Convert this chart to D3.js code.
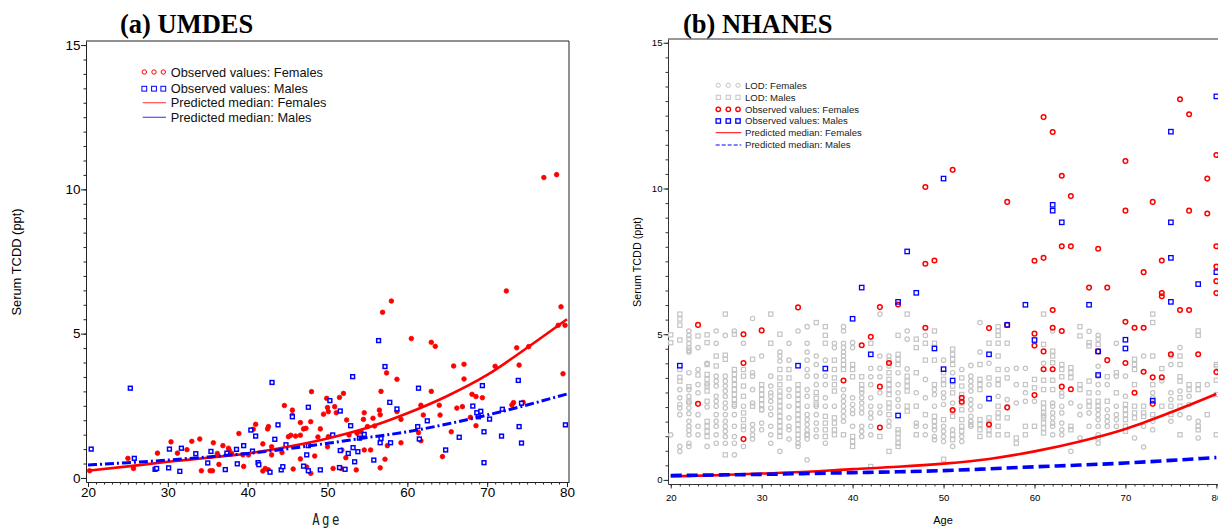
<!DOCTYPE html>
<html><head><meta charset="utf-8">
<script src="https://cdn.jsdelivr.net/npm/d3@7"></script>
<style>body{margin:0;background:#fff}svg{display:block}</style>
</head><body>
<svg id="c" width="1218" height="529"></svg>
<script>
// ---------- DATA ----------
const ageTicks = [20, 30, 40, 50, 60, 70, 80];
const valueTicks = [0, 5, 10, 15];
const titles = ["(a) UMDES", "(b) NHANES"];
const yLabel = "Serum TCDD (ppt)";
const xLabel = "Age";
const legendA = ["Observed values: Females", "Observed values: Males", "Predicted median: Females", "Predicted median: Males"];
const legendB = ["LOD: Females", "LOD: Males", "Observed values: Females", "Observed values: Males", "Predicted median: Females", "Predicted median: Males"];

// (a) UMDES observed values [age, ppt]
const umdesFemales = [[20.2,0.25],[25.0,0.68],[25.7,0.33],[28.7,0.86],[30.4,1.25],[31.2,0.86],[32.4,0.98],[33.0,1.27],[34.0,1.35],[34.2,0.25],[35.3,0.25],[35.6,0.25],[35.7,1.22],[36.2,0.85],[36.4,0.47],[36.9,1.12],[37.4,0.83],[37.6,1.03],[37.7,0.95],[38.0,0.85],[38.9,1.54],[39.4,0.80],[39.5,0.40],[40.1,0.80],[40.7,1.69],[41.0,1.86],[41.9,1.18],[41.9,0.24],[42.2,0.33],[42.5,1.70],[42.6,1.78],[42.6,0.28],[43.0,0.80],[43.0,1.08],[44.3,0.88],[44.6,2.51],[45.1,1.43],[45.4,1.48],[45.6,2.35],[45.6,2.18],[45.7,0.31],[46.0,1.45],[46.6,1.48],[46.6,1.92],[46.6,0.66],[47.0,1.70],[47.3,1.72],[47.4,0.38],[47.9,1.95],[47.9,0.16],[48.0,2.99],[48.4,0.76],[48.8,1.42],[49.1,1.70],[49.5,2.21],[49.9,2.76],[50.0,2.44],[50.0,1.08],[50.1,2.30],[50.1,1.43],[50.7,0.33],[50.9,2.47],[51.1,2.26],[51.5,2.79],[51.7,0.33],[51.8,0.97],[52.0,2.93],[52.3,0.70],[52.4,2.01],[52.7,1.49],[53.6,0.28],[53.7,1.55],[54.2,1.60],[54.5,2.03],[54.6,2.26],[54.6,0.97],[55.0,1.78],[55.4,0.97],[55.7,2.07],[55.9,1.80],[56.5,2.35],[56.6,2.19],[56.6,0.35],[56.7,3.00],[56.9,5.74],[57.2,0.65],[57.4,3.64],[57.5,1.12],[58.0,6.13],[58.7,3.42],[58.7,2.30],[59.2,2.03],[59.2,1.22],[60.5,4.83],[61.4,1.57],[61.7,2.52],[61.7,1.29],[62.0,2.18],[63.0,4.70],[63.0,3.00],[63.5,4.56],[64.0,2.52],[64.1,2.18],[64.4,0.74],[65.5,1.60],[65.8,3.88],[66.2,2.42],[66.9,2.47],[67.1,3.94],[67.1,3.43],[67.9,2.10],[68.1,2.90],[68.6,2.82],[68.6,1.81],[69.4,2.78],[71.0,3.87],[72.4,6.48],[73.1,2.53],[73.3,2.61],[73.7,4.51],[74.0,3.91],[74.5,2.62],[75.2,4.55],[77.1,10.41],[78.7,10.51],[78.9,5.29],[79.25,5.93],[79.5,3.61],[79.75,5.29]];
const umdesMales = [[20.4,1.00],[25.3,3.11],[25.8,0.68],[28.4,0.30],[28.6,0.33],[30.1,0.35],[30.2,1.00],[31.5,0.23],[31.7,1.03],[33.5,0.84],[35.0,0.52],[35.4,0.92],[37.2,0.29],[37.4,0.86],[38.6,0.99],[38.7,0.49],[39.5,1.12],[40.4,1.66],[40.6,0.93],[41.0,1.45],[41.3,0.53],[41.4,0.46],[42.8,0.20],[43.05,3.31],[43.4,1.34],[43.8,1.84],[44.2,0.28],[44.4,0.39],[44.8,1.15],[45.6,2.12],[47.0,0.41],[47.4,0.80],[47.6,2.45],[47.6,1.12],[47.6,0.25],[49.1,0.28],[50.3,2.68],[50.65,1.49],[51.5,0.36],[51.6,2.32],[51.6,0.95],[52.2,0.30],[52.6,0.85],[52.9,1.81],[53.15,3.51],[53.2,1.05],[53.4,0.56],[53.8,0.91],[54.0,1.38],[54.6,1.51],[55.8,0.62],[56.4,4.76],[56.6,1.22],[56.7,1.37],[57.2,3.86],[57.8,2.62],[57.9,1.22],[58.7,2.39],[61.3,1.78],[61.4,3.11],[61.5,1.35],[62.5,1.98],[64.8,0.97],[66.5,1.41],[68.2,2.49],[68.7,2.26],[68.9,2.12],[69.2,2.31],[69.4,3.20],[69.6,1.60],[69.6,0.53],[70.3,2.04],[71.8,1.45],[71.9,2.38],[73.9,3.38],[74.0,1.78],[74.3,2.59],[74.3,1.21],[79.8,1.84]];
const umdesPredFemales = [[20,0.25],[25,0.40],[30,0.56],[35,0.70],[40,0.85],[45,1.08],[50,1.37],[55,1.74],[60,2.24],[65,2.84],[70,3.57],[75,4.51],[80,5.50]];
const umdesPredMales = [[20,0.45],[25,0.53],[30,0.62],[35,0.73],[40,0.85],[45,1.01],[50,1.20],[55,1.40],[60,1.60],[65,1.87],[70,2.18],[75,2.53],[80,2.91]];

// (b) NHANES observed values [age, ppt]
const nhanesFemales = [[23,5.32],[23,2.61],[28,5.0],[28,4.01],[28,1.40],[30,5.13],[34,5.92],[39,3.41],[41,4.62],[42,4.91],[43,5.93],[43,3.20],[43,1.80],[44,4.01],[45,6.02],[48,5.22],[48,10.05],[48,7.42],[49,7.53],[51,10.64],[51,2.40],[52,2.82],[52,2.68],[55,5.21],[55,1.90],[57,5.32],[57,2.49],[57,9.54],[60,5.02],[60,4.61],[60,2.91],[60,7.52],[61,7.62],[61,12.45],[61,4.41],[61,3.80],[62,11.94],[62,5.83],[62,5.22],[62,3.80],[63,10.44],[63,8.02],[63,5.11],[63,3.20],[64,9.74],[64,8.02],[64,3.11],[66,6.60],[68,6.60],[67,7.93],[67,4.41],[68,4.11],[70,10.94],[70,9.24],[70,5.43],[70,4.01],[71,5.22],[71,2.99],[72,5.22],[72,3.71],[72,7.13],[73,9.54],[73,3.52],[73,2.61],[74,3.52],[74,7.53],[74,6.41],[74,6.30],[75,4.31],[76,13.06],[76,5.83],[77,12.55],[77,9.24],[77,5.83],[78,4.31],[79,10.34],[79,9.14],[80,11.15],[80,8.02],[80,7.32],[80,6.82],[80,6.41],[80,3.70]];
const nhanesMales = [[21,3.92],[34,3.92],[37,3.82],[40,5.53],[41,6.60],[42,4.31],[45,6.11],[45,2.21],[46,7.84],[47,6.42],[49,4.51],[50,3.80],[50,10.34],[51,3.41],[55,4.31],[55,2.79],[57,5.32],[59,6.01],[60,4.80],[62,9.44],[62,9.24],[63,8.84],[66,6.01],[67,4.41],[67,3.60],[70,4.81],[70,4.51],[73,2.72],[75,6.11],[75,11.95],[75,8.84],[75,7.62],[78,6.72],[80,13.16],[80,7.13]];
// below limit of detection (imputed), per age: [age, values...]
const nhanesLodFemales = [[20,1.55],[21,3.10,2.82,2.59,2.47,2.24,1.15,0.98],[22,5.11,4.96,4.83,4.68,4.54,4.39,3.68,3.10,2.87,2.64,2.47,2.28,2.01,1.84,1.70,1.55,1.26,1.15],[23,4.54,3.79,3.27,2.99,2.24,1.84,1.55],[24,4.0,3.3,2.5,1.15],[25,5.11,4.69,3.56,3.39,3.22,2.87,2.70,2.53,2.24,2.01,1.84,1.55,1.26],[26,4.96,3.56,3.39,3.22,3.05,2.87,2.64,2.47,2.24,2.01,1.84,1.67,1.49,1.26],[27,5.11,2.53,2.24,1.84,1.49,1.26,0.86],[28,4.69,2.53,1.72,1.15],[29,5.54,3.68,3.56,3.10,2.64,1.90,1.72,1.55,1.40],[30,4.25,2.41,1.95,1.72],[31,3.56,3.22,2.99,2.87,2.70,2.47,2.24,1.84,1.55,1.26],[32,4.39,4.25,4.08,0.98],[33,4.69,4.11,3.10,2.87,2.53,2.13,1.84,1.72,1.40],[34,5.11,1.40,1.26,1.15],[35,5.26,4.69,4.39,4.11,3.79,3.56,3.10,2.87,2.53,2.24,2.07,1.90,1.72,1.55,1.40,0.69],[36,4.25,3.96,3.56,3.27,2.53,2.24,1.95,1.72,1.49],[37,4.11,3.56,3.27,2.82,2.53,1.26],[38,4.69,4.54,2.53],[39,5.26,5.11,4.69,4.54,4.39,4.25,4.11,3.10,2.87,2.70,2.53,2.36,2.18,2.01],[40,4.71,4.54,2.82,2.59,2.41,2.28,1.84],[41,2.99,2.82,2.64,2.47,2.30,1.84,1.67,1.49],[42,3.83,3.54,3.27,2.82,2.53,2.30,2.13,1.84,1.55],[43,5.69,4.25,3.83,3.54,2.99,2.53,2.30],[44,4.25,4.11,3.91,2.01,1.84],[45,3.68,3.27,2.99,2.76,2.53],[46,5.11,4.83,3.81],[47,2.99,1.95,1.84],[48,4.96,3.45,2.82,1.84,1.55],[49,3.10,2.93,2.53,1.84,1.72,1.49,1.38],[50,4.11,2.99,2.82,2.59,1.84,1.67,1.49,1.32],[51,3.68,2.64,1.72,1.15],[52,3.79,1.49,1.32],[53,3.93,3.56,3.39,3.22,3.05,2.76,2.59,2.41,2.18,2.01,1.84],[54,5.40,4.39,2.53],[55,4.0,3.27],[56,2.87],[57,3.79,2.76,2.47],[58,3.83,3.27,2.64],[59,3.83,2.99,2.70],[60,2.70],[61,4.0,2.2],[62,5.11,2.64,2.53,2.30,2.13,1.95,1.84,1.55],[63,2.99,2.87,2.53,2.30,1.95,1.72,1.55],[64,2.64,0.98],[65,2.53,2.24,1.44],[66,5.10,2.30,1.84],[67,4.96,4.83,3.90,3.56,3.27,2.99,2.41,2.24,2.07,1.84,1.55,1.26],[68,3.27,2.41,2.18,2.01,1.84],[69,4.69,3.56,2.53,2.24,2.07,1.84],[70,3.56,2.87],[71,1.44],[72,4.25,1.84,1.13],[73,2.99,2.82,2.01,1.72],[74,3.4],[75,4.25,3.96,2.99,2.76,2.01],[76,4.54,3.05,2.24],[77,2.87,2.59,2.13],[78,2.01,1.44],[79,3.27],[80,3.9]];
const nhanesLodMales = [[20,4.98,4.71],[21,5.69,5.52,5.31,4.80,3.79,3.52,3.39],[22,4.45,3.20,2.70],[23,4.94,3.60],[24,4.98,4.71,3.96,3.62,3.45,3.22,3.05,2.70,2.01,1.84,1.67,1.49],[25,4.25,3.91],[26,5.69,4.28,4.14,0.86],[27,5.0,3.79,3.62,3.45,3.27,3.10,2.93,2.76,2.59],[28,3.79,3.56,3.22,2.87,2.30,2.07,1.84],[29,4.14,2.53],[30,3.27,3.10,2.93,2.76,2.59,2.41],[31,5.69,4.69],[32,5.0,3.79,3.50,3.27,3.05,2.87,2.70,2.53,2.36,2.18,2.01,1.84,1.67,1.49],[33,3.79,3.50],[34,3.27,3.10,2.93,2.76,2.59,2.41,2.24,2.07,1.90,1.72,1.55],[35,1.55],[36,5.40,3.0,2.8,2.6],[37,5.26,4.96,4.69,2.18,1.95,1.72,1.49],[38,4.11,3.79,3.50,3.27,3.05,2.13,1.95,1.72,1.55],[39,3.96,3.79,1.55],[40,3.96,3.79,3.54,1.49,1.32,1.15],[41,3.54,3.27,3.10],[42,4.69,0.46],[43,1.49],[44,3.68,3.45,3.27,3.10,2.93,2.64,2.47,2.24,0.98],[45,4.96,4.31,4.14,3.96,1.72,1.61,1.44,1.26,1.15],[46,5.69,3.56,3.39,3.22,3.05,2.53,2.36],[47,4.83,4.54,3.68,2.53,1.55],[48,4.69,4.11,2.24],[49,5.11,4.69,4.11,3.27,2.18,2.01],[50,3.68,3.45,3.27,2.07,0.71],[51,4.49,4.31,4.14,3.96,3.22,2.99,2.36,2.18,1.55,1.38],[52,3.50,3.22,2.93,2.64,2.41,2.07,1.84,1.67],[53,1.9],[54,3.96,3.45,3.27,3.10,2.07,1.90,1.72,1.49],[55,4.69,3.50,2.13,1.95,1.72,1.55],[56,5.26,5.11,4.96,4.69,4.25,3.79,3.45,3.27,2.53,2.30,2.13,1.84,1.55],[57,4.69,3.50,2.13,1.55],[58,1.44,1.26],[59,3.27,1.84,1.55],[60,3.45,3.16,1.84],[61,5.69,4.65,3.42,3.10,2.64,2.47,2.30,2.13,1.95,1.78,1.61],[62,4.42,4.25,4.02,3.42,3.10],[63,3.96,3.79,3.54],[64,3.85,3.68,3.51,1.84,1.72],[65,5.26,4.94,3.27,3.10],[66,4.71,4.60,3.39,2.99,2.70,2.53],[67,4.65,2.70,2.53,1.44],[68,3.54,2.70],[69,3.68,2.99],[70,2.59,2.41,2.24,2.07,1.84,1.67],[71,4.14,3.96,3.79,3.27,2.53,2.30,2.13],[72,2.53,2.30,2.18],[73,5.69,5.40,4.25,3.27,2.24],[74,3.82,2.53],[75,2.53,2.24],[76,4.25,3.96,3.54,3.39,2.82,2.53,1.55],[77,3.27,3.10],[78,5.11,4.96,3.27,3.10,1.84,1.72],[79,2.24],[80,3.96,3.42,2.93,1.55]];
const nhanesPredFemales = [[20,0.12],[25,0.16],[30,0.22],[35,0.28],[40,0.37],[45,0.45],[50,0.56],[55,0.72],[60,0.98],[65,1.32],[70,1.75],[75,2.32],[80,2.95]];
const nhanesPredMales = [[20,0.15],[25,0.17],[30,0.19],[35,0.22],[40,0.25],[45,0.28],[50,0.32],[55,0.38],[60,0.45],[65,0.51],[70,0.58],[75,0.67],[80,0.77]];

// ---------- DRAWING ----------
const svg = d3.select("#c");
const RED = "#ff0000", BLUE = "#0000ff", GRAY = "#c4c4c4";
const SANS = "'Liberation Sans', Arial, Helvetica, sans-serif";

function frame(x, y, o) {
  const [x0, x1] = x.range(), [y0, y1] = y.range();
  const g = svg.append("g");
  g.append("path").attr("d", `M${x0},${y1}H${x1}V${y0}`).attr("fill", "none").attr("stroke", o.axisColor).attr("stroke-width", 1);
  g.append("g").attr("transform", `translate(0,${y0})`)
    .call(d3.axisBottom(x).tickValues(d3.range(20, 81, 1)).tickSize(o.minor).tickFormat(""))
    .call(s => { s.select(".domain").remove(); s.selectAll("line").attr("stroke", o.axisColor); });
  g.append("g").attr("transform", `translate(${x0},0)`)
    .call(d3.axisLeft(y).tickValues(d3.range(0, 15.01, 0.5)).tickSize(o.minor).tickFormat(""))
    .call(s => { s.select(".domain").remove(); s.selectAll("line").attr("stroke", o.axisColor); });
  g.append("g").attr("transform", `translate(0,${y0})`)
    .call(d3.axisBottom(x).tickValues(ageTicks).tickSize(o.major).tickSizeOuter(0).tickPadding(o.xPad))
    .call(s => { s.select(".domain").attr("stroke", o.axisColor); s.selectAll("line").attr("stroke", o.axisColor);
      s.selectAll("text").attr("font-family", SANS).attr("font-size", o.tickFont).attr("fill", "#000"); });
  g.append("g").attr("transform", `translate(${x0},0)`)
    .call(d3.axisLeft(y).tickValues(valueTicks).tickSize(o.major).tickSizeOuter(0).tickPadding(o.yPad))
    .call(s => { s.select(".domain").attr("stroke", o.axisColor); s.selectAll("line").attr("stroke", o.axisColor);
      s.selectAll("text").attr("font-family", SANS).attr("font-size", o.tickFont).attr("fill", "#000"); });
}

function squares(g, data, x, y, size, color, sw, fill) {
  g.selectAll(null).data(data).join("rect")
    .attr("x", d => x(d[0]) - size / 2).attr("y", d => y(d[1]) - size / 2)
    .attr("width", size).attr("height", size)
    .attr("fill", fill).attr("stroke", color).attr("stroke-width", sw);
}
function circles(g, data, x, y, r, color, sw, fill) {
  g.selectAll(null).data(data).join("circle")
    .attr("cx", d => x(d[0])).attr("cy", d => y(d[1])).attr("r", r)
    .attr("fill", fill).attr("stroke", color).attr("stroke-width", sw);
}
function line(g, data, x, y, color, w, dash) {
  g.append("path").datum(data)
    .attr("d", d3.line().x(d => x(d[0])).y(d => y(d[1])).curve(d3.curveMonotoneX))
    .attr("fill", "none").attr("stroke", color).attr("stroke-width", w)
    .attr("stroke-dasharray", dash || null);
}
const flat = rows => rows.flatMap(r => r.slice(1).map(v => [r[0], v]));

// ===== Panel (a) =====
{
  const x = d3.scaleLinear([19.75, 80.25], [86, 569]);
  const y = d3.scaleLinear([-0.14, 15.14], [482, 41]);
  frame(x, y, { axisColor: "#222", minor: 2.5, major: 5, xPad: 0, yPad: 0.5, tickFont: "13.5px" });
  const g = svg.append("g");
  circles(g, umdesFemales, x, y, 2.3, RED, 0.8, RED);
  squares(g, umdesMales, x, y, 3.8, BLUE, 1.5, "#fff");
  line(g, umdesPredFemales, x, y, RED, 2.6);
  line(g, umdesPredMales, x, y, BLUE, 3, "9,3,2,3");

  svg.append("text").text(titles[0]).attr("x", 120).attr("y", 33)
    .attr("font-family", "'Liberation Serif', 'Times New Roman', serif").attr("font-weight", "bold").attr("font-size", "26.5px");
  svg.append("text").text(yLabel).attr("transform", "translate(21,262) rotate(-90)")
    .attr("text-anchor", "middle").attr("font-family", SANS).attr("font-size", "12.9px");
  svg.append("text").text(xLabel).attr("transform", "translate(327,525) scale(0.95,1.2)")
    .attr("text-anchor", "middle").attr("letter-spacing", "2.5px")
    .attr("font-family", "'DejaVu Sans Mono', monospace").attr("font-weight", 300).attr("font-size", "13px").attr("fill", "#222");

  const lg = svg.append("g").attr("font-family", SANS).attr("font-size", "12.8px");
  const rows = [72, 88.7, 102.7, 117.3];
  [144.3, 154, 163.3].forEach(mx => {
    lg.append("circle").attr("cx", mx).attr("cy", rows[0]).attr("r", 2.2).attr("fill", "none").attr("stroke", RED).attr("stroke-width", 1);
    lg.append("rect").attr("x", mx - 2.4).attr("y", rows[1] - 2.4).attr("width", 4.8).attr("height", 4.8).attr("fill", "none").attr("stroke", BLUE).attr("stroke-width", 1);
  });
  lg.append("line").attr("x1", 142.7).attr("x2", 166).attr("y1", rows[2]).attr("y2", rows[2]).attr("stroke", "#ff5050").attr("stroke-width", 1.2);
  lg.append("line").attr("x1", 142.7).attr("x2", 166).attr("y1", rows[3]).attr("y2", rows[3]).attr("stroke", "#5050ff").attr("stroke-width", 1.2);
  legendA.forEach((t, i) => lg.append("text").text(t).attr("x", 170.7).attr("y", rows[i]).attr("dy", "0.36em").attr("fill", "#111"));
}

// ===== Panel (b) =====
{
  const x = d3.scaleLinear([19.7, 80.3], [668, 1219.1]);
  const y = d3.scaleLinear([-0.14, 15.13], [484, 39]);
  frame(x, y, { axisColor: "#333", minor: 2.5, major: 4.5, xPad: 6, yPad: 1, tickFont: "9.6px" });
  const g = svg.append("g");
  circles(g, flat(nhanesLodFemales), x, y, 2.2, GRAY, 1.2, "none");
  squares(g, flat(nhanesLodMales), x, y, 4.2, GRAY, 1.2, "none");
  line(g, nhanesPredFemales, x, y, RED, 2.6);
  line(g, nhanesPredMales, x, y, BLUE, 3.6, "11,5");
  circles(g, nhanesFemales, x, y, 2.3, RED, 1.5, "none");
  squares(g, nhanesMales, x, y, 4.4, BLUE, 1.3, "none");

  svg.append("text").text(titles[1]).attr("x", 683).attr("y", 33)
    .attr("font-family", "'Liberation Serif', 'Times New Roman', serif").attr("font-weight", "bold").attr("font-size", "26.5px");
  svg.append("text").text(yLabel).attr("transform", "translate(641,262) rotate(-90)")
    .attr("text-anchor", "middle").attr("font-family", SANS).attr("font-size", "10.8px");
  svg.append("text").text(xLabel).attr("x", 943).attr("y", 524).attr("text-anchor", "middle")
    .attr("font-family", SANS).attr("font-size", "11px");

  const lg = svg.append("g").attr("font-family", SANS).attr("font-size", "9.6px");
  const rows = [85.3, 97.3, 109.3, 121, 132.7, 145];
  [718.3, 728.3, 738].forEach(mx => {
    lg.append("circle").attr("cx", mx).attr("cy", rows[0]).attr("r", 2.1).attr("fill", "none").attr("stroke", GRAY).attr("stroke-width", 1);
    lg.append("rect").attr("x", mx - 2.1).attr("y", rows[1] - 2.1).attr("width", 4.2).attr("height", 4.2).attr("fill", "none").attr("stroke", GRAY).attr("stroke-width", 1);
    lg.append("circle").attr("cx", mx).attr("cy", rows[2]).attr("r", 2.2).attr("fill", "none").attr("stroke", RED).attr("stroke-width", 1.4);
    lg.append("rect").attr("x", mx - 2.2).attr("y", rows[3] - 2.2).attr("width", 4.4).attr("height", 4.4).attr("fill", "none").attr("stroke", BLUE).attr("stroke-width", 1.3);
  });
  lg.append("line").attr("x1", 715.7).attr("x2", 741.3).attr("y1", rows[4]).attr("y2", rows[4]).attr("stroke", RED).attr("stroke-width", 1);
  lg.append("line").attr("x1", 715.7).attr("x2", 741.3).attr("y1", rows[5]).attr("y2", rows[5]).attr("stroke", BLUE).attr("stroke-width", 1).attr("stroke-dasharray", "4,2");
  legendB.forEach((t, i) => lg.append("text").text(t).attr("x", 745).attr("y", rows[i]).attr("dy", "0.36em").attr("fill", "#222"));
}
</script>
</body></html>
